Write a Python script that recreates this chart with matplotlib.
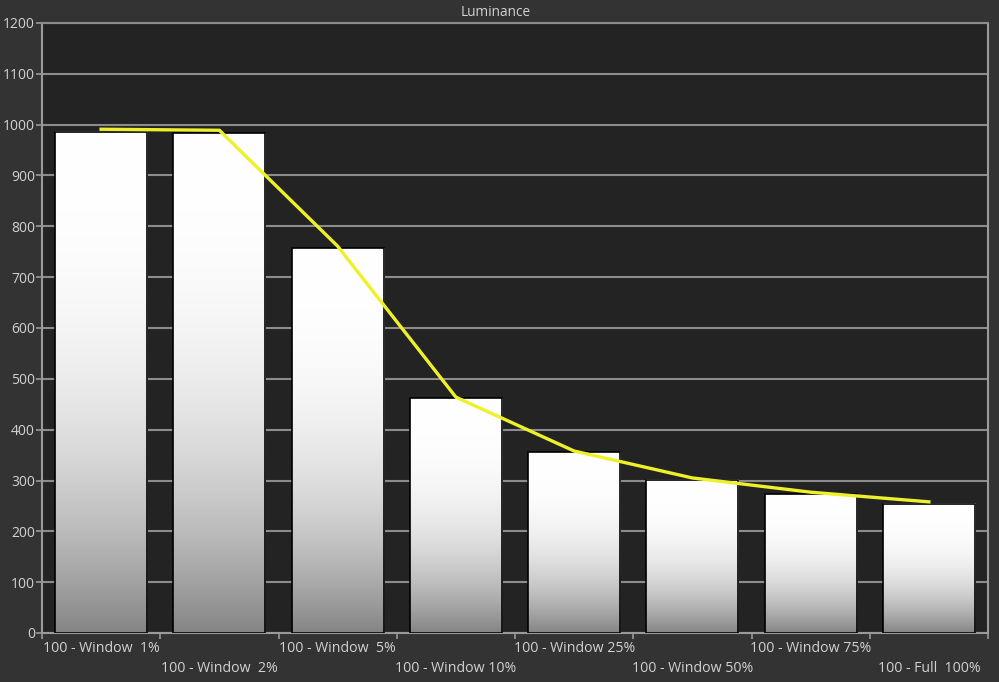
import matplotlib
matplotlib.use("Agg")
import matplotlib.pyplot as plt
import numpy as np
from matplotlib.transforms import blended_transform_factory
from matplotlib.patches import Rectangle

categories = ["100 - Window  1%", "100 - Window  2%", "100 - Window  5%", "100 - Window 10%",
              "100 - Window 25%", "100 - Window 50%", "100 - Window 75%", "100 - Full  100%"]
bar_values = [986, 983, 757, 462, 356, 301, 273, 254]
line_values = [991, 989, 761, 464, 358, 305, 277, 258]
y_ticks = list(range(0, 1201, 100))

plt.rcParams['font.family'] = ['Open Sans', 'DejaVu Sans']

fig = plt.figure(figsize=(9.99, 6.82), dpi=100)
fig.patch.set_facecolor('#333333')
W, H = 999, 682
ax = fig.add_axes([42 / W, 1 - 633 / H, (988 - 42) / W, (633 - 23) / H])
ax.set_facecolor('#232323')

n = len(categories)

# gradient
grad = np.linspace(0, 1, 256).reshape(-1, 1)
shade = 1.0 - 0.48 * (1 - grad) ** 2.6
img = np.dstack([shade, shade, shade])
bw = 0.78
for i, v in enumerate(bar_values):
    x0 = i + 0.5 - bw / 2
    ax.imshow(img, extent=[x0, x0 + bw, 0, v], origin='lower', aspect='auto',
              zorder=2, interpolation='bilinear')
    ax.add_patch(Rectangle((x0, 0), bw, v, facecolor='none', edgecolor='black',
                           linewidth=1.2, zorder=3))
ax.set_aspect('auto')
ax.set_xlim(0, n)
ax.set_ylim(0, 1200)

xc = np.arange(n) + 0.5
ax.plot(xc, line_values, color='#eef02a', linewidth=2.4, zorder=4, solid_joinstyle='round')

ax.set_yticks(y_ticks)
ax.set_yticklabels([str(t) for t in y_ticks])
ax.yaxis.grid(True, color='#8c8c8c', linewidth=1.5, zorder=1)
ax.set_axisbelow(True)
ax.set_xticks(np.arange(0, n + 1))
ax.set_xticklabels([])
ax.tick_params(axis='both', colors='#9a9a9a', length=4, width=1.2, labelcolor='#d2d2d2',
               labelsize=10)
ax.tick_params(axis='y', pad=1)
for s in ['left', 'bottom', 'right']:
    ax.spines[s].set_color('#9a9a9a')
    ax.spines[s].set_linewidth(1.5)
ax.spines['top'].set_color('#8c8c8c')
ax.spines['top'].set_linewidth(1.5)

trans = blended_transform_factory(ax.transData, fig.transFigure)
for i, lab in enumerate(categories):
    ypix = 648 if i % 2 == 0 else 668
    ax.text(i + 0.5, 1 - ypix / H, lab, transform=trans, ha='center', va='center',
            color='#d2d2d2', fontsize=10.2, clip_on=False)

fig.text(496 / W, 1 - 12 / H, 'Luminance', ha='center', va='center', color='#d2d2d2',
         fontsize=9.8)

fig.savefig('out.png', dpi=100, facecolor=fig.get_facecolor())
